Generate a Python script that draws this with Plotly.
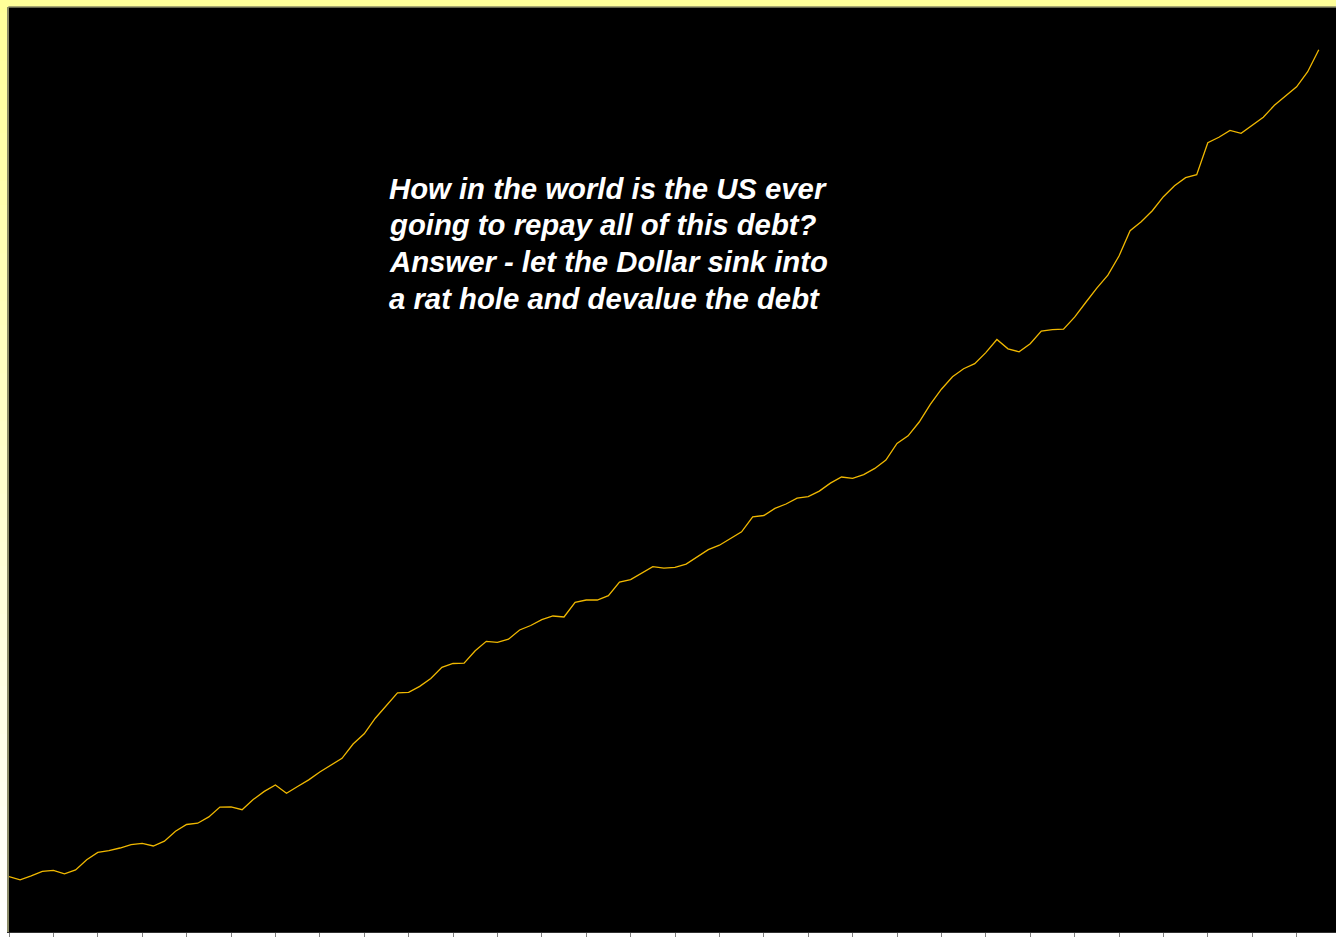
import plotly.graph_objects as go

# Quarterly series (index units)
start_year = 1980
debt_index = [
    5.53, 5.22, 5.61, 6.06, 6.16, 5.81, 6.21, 7.23, 7.96, 8.14,
    8.40, 8.74, 8.86, 8.60, 9.08, 10.07, 10.75, 10.88, 11.51, 12.49,
    12.51, 12.23, 13.24, 14.06, 14.70, 13.88, 14.55, 15.21, 16.00, 16.69,
    17.37, 18.80, 19.82, 21.38, 22.60, 23.92, 23.97, 24.56, 25.35, 26.46,
    26.85, 26.89, 28.13, 29.07, 28.97, 29.28, 30.20, 30.65, 31.23, 31.60,
    31.50, 32.96, 33.20, 33.20, 33.64, 35.00, 35.24, 35.89, 36.54, 36.38,
    36.46, 36.79, 37.55, 38.24, 38.68, 39.32, 40.02, 41.52, 41.65, 42.36,
    42.80, 43.38, 43.53, 44.09, 44.89, 45.50, 45.37, 45.74, 46.36, 47.20,
    48.86, 49.62, 51.00, 52.76, 54.28, 55.53, 56.33, 56.83, 57.94, 59.25,
    58.32, 58.02, 58.83, 60.09, 60.24, 60.29, 61.48, 62.95, 64.38, 65.68,
    67.60, 70.13, 71.02, 72.13, 73.53, 74.63, 75.44, 75.74, 78.93, 79.47,
    80.16, 79.87, 80.72, 81.48, 82.67, 83.64, 84.52, 86.03, 88.23,
]
quarters = [start_year + i / 4 for i in range(len(debt_index))]

annotation_lines = [
    "How in the world is the US ever",
    "going to repay all of this debt?",
    "Answer - let the Dollar sink into",
    "a rat hole and devalue the debt",
]

fig = go.Figure()
fig.add_trace(go.Scatter(
    x=quarters, y=debt_index, mode="lines",
    line=dict(color="#F0B800", width=1.3),
    hoverinfo="skip", showlegend=False,
))

W, H = 1336, 937
ml, mr, mt, mb = 9, 0, 7, 5
plot_w = W - ml - mr
plot_h = H - mt - mb
px_per_year = 44.4
x_end = start_year + plot_w / px_per_year

shapes = []
# left strip: vertical gradient pale yellow (top) -> white (bottom)
n_bands = 40
for i in range(n_bands):
    f = i / (n_bands - 1)
    b = int(round(153 + (255 - 153) * f))
    y1 = 1.02 - i * (1.04 / n_bands)
    y0 = y1 - 1.04 / n_bands - 0.001
    shapes.append(dict(type="rect", xref="paper", yref="paper",
                       x0=-0.02, x1=0, y0=y0, y1=y1,
                       fillcolor=f"rgb(255,255,{b})", line=dict(width=0), layer="below"))
# top strip
shapes.append(dict(type="rect", xref="paper", yref="paper", x0=-0.02, x1=1.02,
                   y0=1.0, y1=1.03, fillcolor="#FFFF99", line=dict(width=0), layer="below"))
# top border line
shapes.append(dict(type="line", xref="paper", yref="paper", x0=-0.0005, x1=1.02,
                   y0=1.0, y1=1.0, line=dict(color="#8a8a66", width=1.5)))

centers = [0.8040, 0.7644, 0.7247, 0.6850]
annotations = []
for txt, yc in zip(annotation_lines, centers):
    annotations.append(dict(
        text=txt, xref="paper", yref="paper", x=0.2856, y=yc,
        xanchor="left", yanchor="middle", showarrow=False, borderpad=0,
        font=dict(family="Liberation Sans, Arial, sans-serif", size=29.3,
                  color="white", weight="bold", style="italic"),
    ))

fig.update_layout(
    width=W, height=H,
    margin=dict(l=ml, r=mr, t=mt, b=mb, pad=0),
    paper_bgcolor="white", plot_bgcolor="black",
    shapes=shapes, annotations=annotations,
    xaxis=dict(range=[start_year, x_end], showgrid=False, zeroline=False,
               showticklabels=False, ticks="outside", ticklen=5, tickwidth=1,
               tickcolor="#808080", tick0=start_year, dtick=1,
               showline=True, linecolor="#303030", linewidth=1),
    yaxis=dict(range=[0, plot_h / 10], showgrid=False, zeroline=False,
               showticklabels=False, ticks="",
               showline=True, linecolor="#8a8a66", linewidth=1.5),
)

fig.write_html(
    "out.html",
    config={"displayModeBar": False},
    post_script="document.body.style.margin='0';document.body.style.overflow='hidden';",
)
